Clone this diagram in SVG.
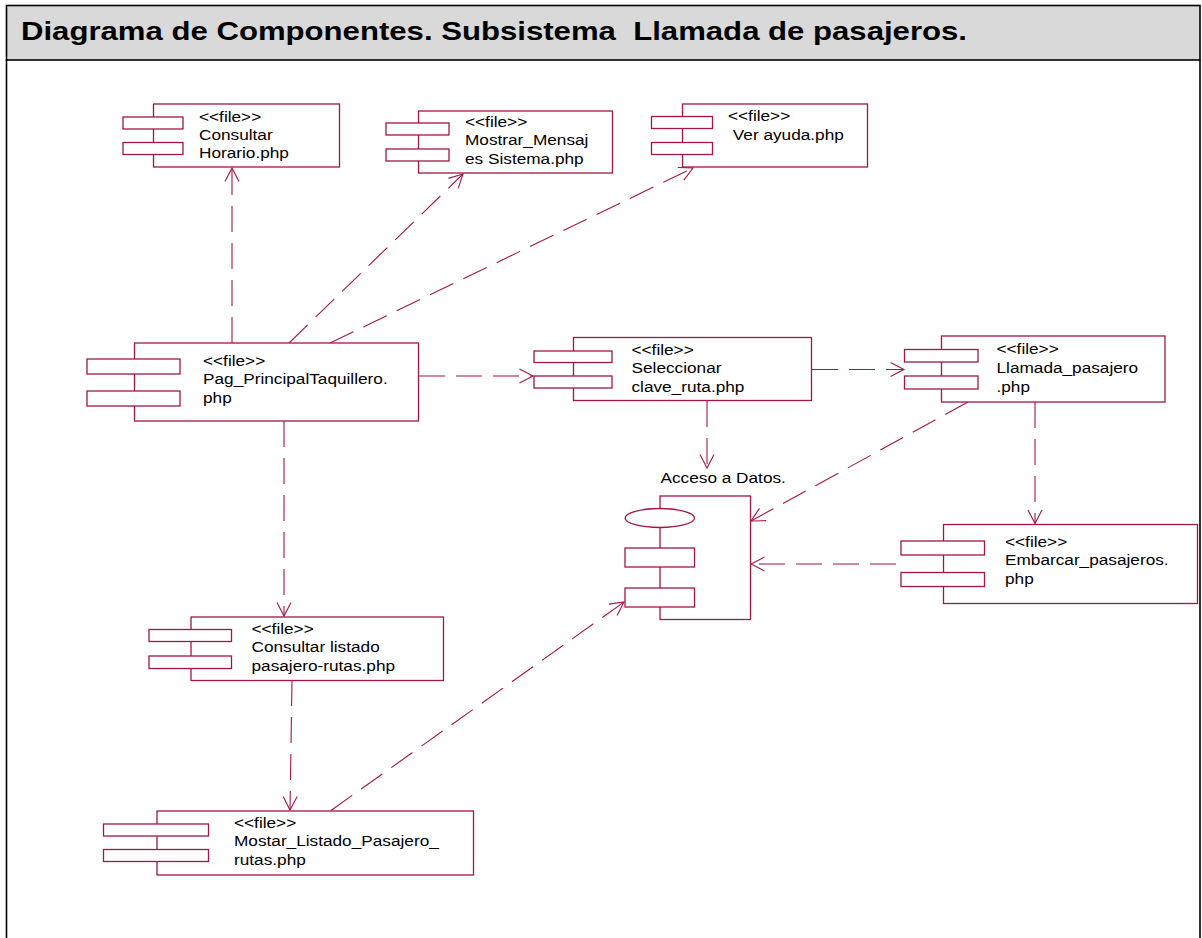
<svg xmlns="http://www.w3.org/2000/svg" width="1202" height="938" viewBox="0 0 1202 938">
  <defs>
    <style>
      .frame { fill: none; stroke: #000; stroke-width: 1.6; }
      .bar { fill: #d9d9d9; stroke: #000; stroke-width: 1.6; }
      .title { font-family: "Liberation Sans", Arial, sans-serif; font-size: 26px; font-weight: bold; fill: #000; white-space: pre; }
      .body { fill: #fff; stroke: #a3164b; stroke-width: 1.3; }
      .port { fill: #fff; stroke: #a3164b; stroke-width: 1.3; }
      .t { font-family: "Liberation Sans", Arial, sans-serif; font-size: 14px; fill: #000; white-space: pre; }
      .dep { fill: none; stroke: #a3164b; stroke-width: 1.1; stroke-dasharray: 26 11; marker-end: url(#open); }
    </style>
    <marker id="open" viewBox="-15 -9 17 18" refX="0" refY="0" markerWidth="17" markerHeight="18" orient="auto" markerUnits="userSpaceOnUse">
      <path d="M-13.5,-7 L0,0 L-13.5,7" fill="none" stroke="#a3164b" stroke-width="1.1" stroke-dasharray="none"/>
    </marker>
  </defs>

  <!-- page frame and title bar -->
  <rect x="0" y="0" width="1202" height="938" fill="#fff"/>
  <rect class="bar" x="6.5" y="5.5" width="1193.5" height="54.5"/>
  <path class="frame" d="M6.5,60 V940 M1200,60 V940"/>
  <text class="title" x="21" y="39.5" textLength="946" lengthAdjust="spacingAndGlyphs">Diagrama de Componentes. Subsistema  Llamada de pasajeros.</text>

  <!-- dependencies -->
  <g id="connectors">
    <path class="dep" d="M232,343 L232,168"/>
    <path class="dep" d="M289,343 L463,174"/>
    <path class="dep" d="M330,343 L693,168"/>
    <path class="dep" d="M419,376 L533,376"/>
    <path class="dep" d="M812,369.5 L904,369.5"/>
    <path class="dep" d="M707,401 L707,468"/>
    <path class="dep" d="M968,402 L751,521"/>
    <path class="dep" d="M1035,402 L1035,523.5"/>
    <path class="dep" d="M896,564 L751,564"/>
    <path class="dep" d="M284,421 L284,616"/>
    <path class="dep" d="M292,680 L290,810"/>
    <path class="dep" d="M331,810.5 L624,602"/>
  </g>

  <!-- components -->
  <g id="consultar-horario">
    <rect class="body" x="153.5" y="104" width="186" height="63"/>
    <rect class="port" x="123" y="117" width="60" height="12"/>
    <rect class="port" x="123" y="142.5" width="60" height="12"/>
    <text class="t" transform="translate(199,121.5) scale(1.23,1)"><tspan x="0" y="0">&lt;&lt;file&gt;&gt;</tspan><tspan x="0" y="18.4">Consultar</tspan><tspan x="0" y="36.8">Horario.php</tspan></text>
  </g>

  <g id="mostrar-mensajes">
    <rect class="body" x="418.5" y="111" width="194" height="62"/>
    <rect class="port" x="386" y="123" width="63" height="12"/>
    <rect class="port" x="386" y="149" width="63" height="12"/>
    <text class="t" transform="translate(465,126.5) scale(1.23,1)"><tspan x="0" y="0">&lt;&lt;file&gt;&gt;</tspan><tspan x="0" y="19">Mostrar_Mensaj</tspan><tspan x="0" y="38">es Sistema.php</tspan></text>
  </g>

  <g id="ver-ayuda">
    <rect class="body" x="682.5" y="104" width="185" height="63"/>
    <rect class="port" x="651.5" y="116.5" width="61" height="12"/>
    <rect class="port" x="651.5" y="142.5" width="61" height="12"/>
    <text class="t" transform="translate(728,121) scale(1.23,1)"><tspan x="0" y="0">&lt;&lt;file&gt;&gt;</tspan><tspan x="0" y="18.6"> Ver ayuda.php</tspan></text>
  </g>

  <g id="pag-principal">
    <rect class="body" x="134.5" y="343" width="284" height="78"/>
    <rect class="port" x="87" y="359" width="93" height="15"/>
    <rect class="port" x="87" y="391" width="93" height="15"/>
    <text class="t" transform="translate(203,366) scale(1.23,1)"><tspan x="0" y="0">&lt;&lt;file&gt;&gt;</tspan><tspan x="0" y="18.3">Pag_PrincipalTaquillero.</tspan><tspan x="0" y="36.6">php</tspan></text>
  </g>

  <g id="seleccionar-clave">
    <rect class="body" x="573.5" y="337.5" width="238" height="63"/>
    <rect class="port" x="534" y="351" width="78" height="11.5"/>
    <rect class="port" x="534" y="376" width="78" height="12"/>
    <text class="t" transform="translate(631.5,355) scale(1.23,1)"><tspan x="0" y="0">&lt;&lt;file&gt;&gt;</tspan><tspan x="0" y="18.4">Seleccionar</tspan><tspan x="0" y="36.8">clave_ruta.php</tspan></text>
  </g>

  <g id="llamada-pasajero">
    <rect class="body" x="941.5" y="336" width="223.5" height="66"/>
    <rect class="port" x="904.5" y="349.5" width="73.5" height="12.5"/>
    <rect class="port" x="904.5" y="376" width="73.5" height="13"/>
    <text class="t" transform="translate(996.5,354) scale(1.23,1)"><tspan x="0" y="0">&lt;&lt;file&gt;&gt;</tspan><tspan x="0" y="18.8">Llamada_pasajero</tspan><tspan x="0" y="37.6">.php</tspan></text>
  </g>

  <g id="acceso-datos">
    <text class="t" transform="translate(660.5,483) scale(1.23,1)">Acceso a Datos.</text>
    <rect class="body" x="660" y="496" width="90.5" height="123.5"/>
    <ellipse class="port" cx="659.8" cy="518" rx="34.7" ry="9.5"/>
    <rect class="port" x="625" y="548" width="69.5" height="19"/>
    <rect class="port" x="625" y="588" width="69.5" height="19"/>
  </g>

  <g id="embarcar-pasajeros">
    <rect class="body" x="943.5" y="524.5" width="254" height="79"/>
    <rect class="port" x="901" y="541" width="83.5" height="14"/>
    <rect class="port" x="901" y="572.5" width="83.5" height="14"/>
    <text class="t" transform="translate(1005,547) scale(1.23,1)"><tspan x="0" y="0">&lt;&lt;file&gt;&gt;</tspan><tspan x="0" y="18.5">Embarcar_pasajeros.</tspan><tspan x="0" y="37">php</tspan></text>
  </g>

  <g id="consultar-listado">
    <rect class="body" x="191" y="617" width="252.5" height="63.5"/>
    <rect class="port" x="149" y="629.5" width="82.5" height="12"/>
    <rect class="port" x="149" y="656" width="82.5" height="12.5"/>
    <text class="t" transform="translate(251.5,633.5) scale(1.23,1)"><tspan x="0" y="0">&lt;&lt;file&gt;&gt;</tspan><tspan x="0" y="18.7">Consultar listado</tspan><tspan x="0" y="37.4">pasajero-rutas.php</tspan></text>
  </g>

  <g id="mostar-listado">
    <rect class="body" x="157" y="811" width="316.5" height="64"/>
    <rect class="port" x="103.5" y="824" width="105" height="12"/>
    <rect class="port" x="103.5" y="849.5" width="105" height="12"/>
    <text class="t" transform="translate(234,827.5) scale(1.23,1)"><tspan x="0" y="0">&lt;&lt;file&gt;&gt;</tspan><tspan x="0" y="19">Mostar_Listado_Pasajero_</tspan><tspan x="0" y="38">rutas.php</tspan></text>
  </g>
</svg>
